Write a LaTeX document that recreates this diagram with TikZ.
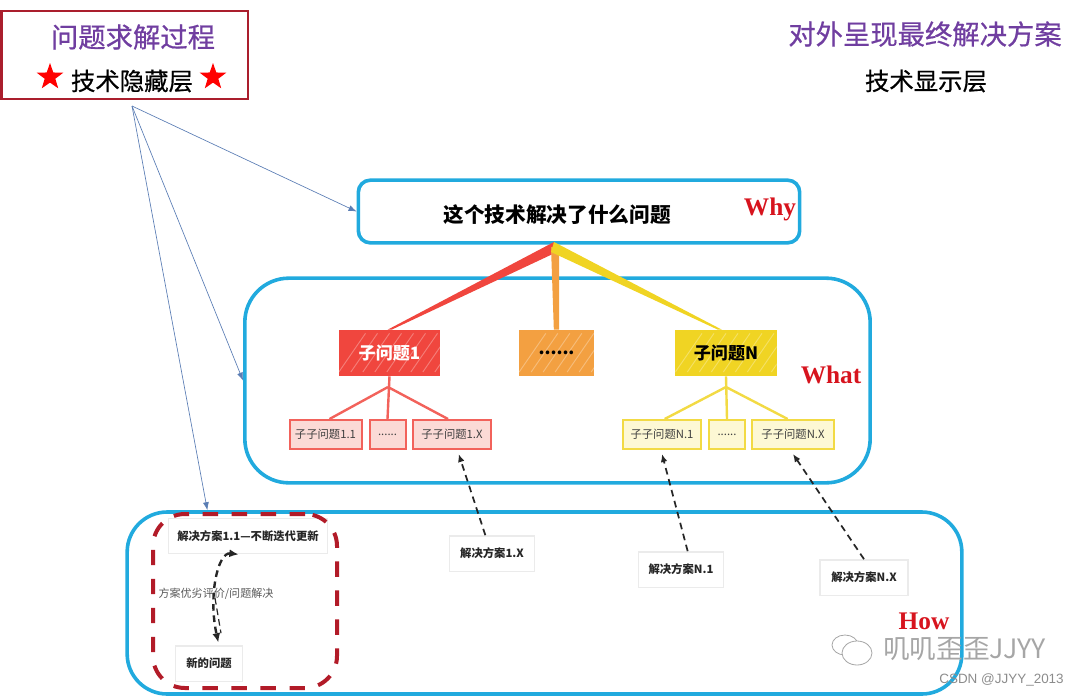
\documentclass[tikz,border=0pt]{standalone}
\usepackage{fontspec}
\setmainfont{Noto Sans CJK SC}
\newfontfamily\midfont[FakeBold=0.6]{Noto Sans CJK SC}
\newfontfamily\labelfont{Liberation Serif}
\newfontfamily\markfont{Liberation Sans}
\definecolor{FrameBlue}{RGB}{33,170,222}
\definecolor{HeadRed}{RGB}{170,30,45}
\definecolor{TitlePurple}{RGB}{112,62,160}
\definecolor{LabelRed}{RGB}{215,20,30}
\definecolor{FlowBlue}{RGB}{90,125,180}
\definecolor{TreeRed}{RGB}{240,70,62}
\definecolor{TreeOrange}{RGB}{243,160,65}
\definecolor{TreeYellow}{RGB}{240,212,35}
\definecolor{PaleRed}{RGB}{251,218,214}
\definecolor{PaleYellow}{RGB}{253,248,212}
\usetikzlibrary{arrows.meta,calc,shapes.geometric}
\tikzset{
  frame/.style={draw=FrameBlue,line width=2.7pt,minimum width=#1},
  hatchbox/.style={fill=#1,minimum width=76pt,minimum height=34.5pt,inner sep=0pt,font=\bfseries\fontsize{12.8}{14}\selectfont,
    path picture={\foreach \s in {0,9,...,81} {
      \draw[white,opacity=0.3,line width=0.7pt] ($(path picture bounding box.south west)+(\s pt,3pt)$) -- ++(20pt,29pt);
    }}},
  leafbox/.style={draw=#1,line width=1.5pt,minimum height=21.75pt,inner sep=0pt,font=\fontsize{8.5}{10}\selectfont,text=black!75},
  solbox/.style={draw=black!8,fill=white,line width=1pt,minimum height=26.5pt,inner sep=0pt,text=black!85,font=\bfseries\fontsize{8.5}{10}\selectfont},
  branch/.style={draw=#1,line width=1.8pt},
  flow/.style={draw=FlowBlue,line width=0.5pt,-{Latex[length=6pt,width=4.5pt]}},
  backlink/.style={draw=black!85,line width=1.3pt,dash pattern=on 5pt off 3.5pt,-{Latex[length=6pt,width=5pt]}},
  sidelabel/.style={font=\labelfont\bfseries\fontsize{19}{21}\selectfont,text=LabelRed,inner sep=0pt},
  redstar/.style={star,star points=5,star point ratio=2.5,fill=red,minimum size=21pt,inner sep=0pt}
}
\begin{document}
\begin{tikzpicture}[x=0.75pt,y=-0.75pt]
  \useasboundingbox (0,0) rectangle (1080,697);

  \node[draw=HeadRed,line width=1.5pt,minimum width=184.5pt,minimum height=66pt] (head) at (124.5,54.5) {};
  \node[text=TitlePurple,font=\midfont\fontsize{20.5}{24}\selectfont,inner sep=0pt] (headtitle) at (133,37) {问题求解过程};
  \node[font=\midfont\fontsize{18.3}{22}\selectfont,inner sep=0pt] (headsub) at (132,81) {技术隐藏层};
  \node[redstar] (starleft) at (50,77) {};
  \node[redstar] (starright) at (213,77) {};
  \node[text=TitlePurple,font=\midfont\fontsize{20.5}{24}\selectfont,inner sep=0pt] (showtitle) at (925,34) {对外呈现最终解决方案};
  \node[font=\midfont\fontsize{18.3}{22}\selectfont,inner sep=0pt] (showsub) at (926,81) {技术显示层};

  \node[frame=331pt,minimum height=47pt,rounded corners=9pt] (why) at (579,211.5) {};
  \node[frame=469pt,minimum height=153.5pt,rounded corners=33pt] (what) at (557.5,380.5) {};
  \node[frame=626pt,minimum height=136.5pt,rounded corners=30pt] (how) at (544.5,603) {};
  \node[font=\bfseries\fontsize{15.5}{18}\selectfont,inner sep=0pt] (whytext) at (557,215) {这个技术解决了什么问题};
  \node[sidelabel] (whylabel) at (770,209) {Why};
  \node[sidelabel] (whatlabel) at (831,375) {What};
  \node[sidelabel] (howlabel) at (924,621) {How};

  \coordinate (fork) at (132,106);
  \draw[flow] (fork) -- (why.west);
  \draw[flow] (fork) -- (what.west);
  \draw[flow] (fork) -- ($(how.north west)+(82,0)$);

  \node[hatchbox=TreeRed,text=white] (sub1) at (389.5,353) {子问题1};
  \node[hatchbox=TreeOrange,minimum width=56pt] (subdots) at (556.5,353) {......};
  \node[hatchbox=TreeYellow] (subn) at (726,353) {子问题N};

  \coordinate (treetop) at (554,247);
  \fill[TreeRed] ($(treetop)+(0,-5)$) -- ($(treetop)+(3,5)$) -- ([xshift=1.5pt]sub1.north) -- ([xshift=-1.5pt]sub1.north) -- cycle;
  \fill[TreeOrange] ($(treetop)+(-3,0)$) -- ($(treetop)+(5,0)$) -- ([xshift=2pt]subdots.north) -- ([xshift=-2pt]subdots.north) -- cycle;
  \fill[TreeYellow] ($(treetop)+(0,-5)$) -- ($(treetop)+(-3,5)$) -- ([xshift=-6pt]subn.north) -- ([xshift=-3pt]subn.north) -- cycle;

  \node[leafbox=TreeRed!85,fill=PaleRed,minimum width=54pt] (leafa) at (325.5,434.5) {子子问题1.1};
  \node[leafbox=TreeRed!85,fill=PaleRed,minimum width=27pt] (leafb) at (387.5,434.5) {......};
  \node[leafbox=TreeRed!85,fill=PaleRed,minimum width=58pt] (leafc) at (452,434.5) {子子问题1.X};
  \node[leafbox=TreeYellow!85,fill=PaleYellow,minimum width=58pt] (leafd) at (662,434.5) {子子问题N.1};
  \node[leafbox=TreeYellow!85,fill=PaleYellow,minimum width=27pt] (leafe) at (727,434.5) {......};
  \node[leafbox=TreeYellow!85,fill=PaleYellow,minimum width=61pt] (leaff) at (793,434.5) {子子问题N.X};

  \coordinate (redjoint) at (388,387);
  \coordinate (yellowjoint) at (726,387);
  \draw[branch=TreeRed!85] (sub1.south) -- (leafb.north);
  \draw[branch=TreeRed!85] (redjoint) -- ([xshift=3pt]leafa.north);
  \draw[branch=TreeRed!85] (redjoint) -- ([xshift=-3pt]leafc.north);
  \draw[branch=TreeYellow!85] (subn.south) -- (leafe.north);
  \draw[branch=TreeYellow!85] (yellowjoint) -- ([xshift=2pt]leafd.north);
  \draw[branch=TreeYellow!85] (yellowjoint) -- ([xshift=-4pt]leaff.north);

  \node[solbox,minimum width=119pt] (sola) at (248,536) {解决方案1.1—不断迭代更新};
  \node[solbox,minimum width=50pt] (solb) at (209,663.5) {新的问题};
  \node[solbox,minimum width=64pt] (solc) at (492,553.5) {解决方案1.X};
  \node[solbox,minimum width=64pt] (sold) at (681,569.5) {解决方案N.1};
  \node[solbox,minimum width=66pt] (sole) at (864,577.5) {解决方案N.X};
  \node[draw=HeadRed!90!red,line width=3pt,dash pattern=on 11.5pt off 10.25pt,minimum width=138pt,minimum height=130.5pt,rounded corners=24pt] (loop) at (245,601) {};
  \node[text=black!65,font=\fontsize{8.3}{10}\selectfont,inner sep=0pt] (loopnote) at (216,594) {方案优劣评价/问题解决};

  \draw[backlink,{Latex[length=7pt,width=6pt]}-{Latex[length=7pt,width=6pt]},line width=1.8pt] ([xshift=-7pt]sola.south) .. controls (218,552) and (208,595) .. ([xshift=7pt,yshift=2pt]solb.north);
  \draw[black!85,line width=0.9pt,dash pattern=on 5pt off 3pt] (215,598) -- ([xshift=9pt,yshift=9pt]solb.north);
  \draw[backlink] ([xshift=-5pt]solc.north) -- ([xshift=5pt,yshift=-3pt]leafc.south);
  \draw[backlink] ([xshift=5pt]sold.north) -- ([yshift=-3pt]leafd.south);
  \draw[backlink] (sole.north) -- ([yshift=-3pt]leaff.south);

  \draw[black!35,line width=0.6pt] (845,645) ellipse (13 and 10);
  \draw[black!35,line width=0.6pt,fill=white] (857,653) ellipse (15 and 12);
  \node[text=black!35,font=\fontsize{20}{24}\selectfont,inner sep=0pt,anchor=west] (marktext) at (883,649) {叽叽歪歪JJYY};
  \node[text=black!45,font=\markfont\fontsize{10.1}{12}\selectfont,inner sep=0pt,anchor=east] (csdn) at (1064,680) {CSDN @JJYY\_2013};
\end{tikzpicture}
\end{document}
